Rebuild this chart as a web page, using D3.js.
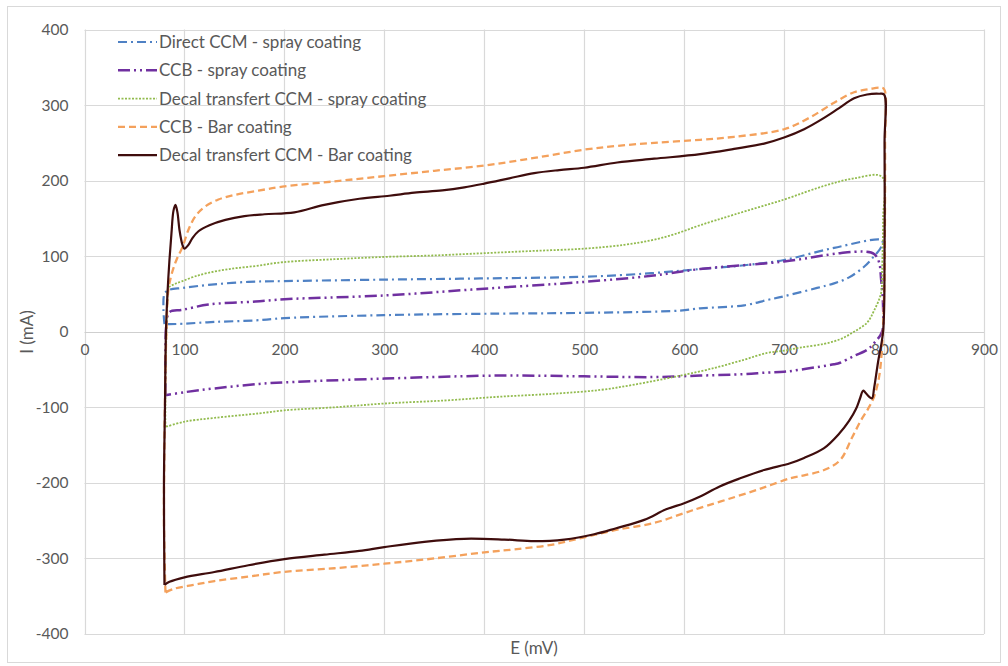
<!DOCTYPE html>
<html>
<head>
<meta charset="utf-8">
<script src="https://cdn.jsdelivr.net/npm/d3@7"></script>
<style>
  html, body { margin: 0; padding: 0; background: #fff; }
  svg { display: block; }
  text { font-family: Lato, "Open Sans", sans-serif; fill: #595959; }
</style>
</head>
<body>
<svg id="chart" width="1008" height="666"></svg>
<script>
// ---- Data ----
const xTicks = [0, 100, 200, 300, 400, 500, 600, 700, 800, 900];
const yTicks = [-400, -300, -200, -100, 0, 100, 200, 300, 400];
const xTitle = "E (mV)";
const yTitle = "I (mA)";

const seriesNames = [
  "Direct CCM - spray coating",
  "CCB - spray coating",
  "Decal transfert CCM - spray coating",
  "CCB - Bar coating",
  "Decal transfert CCM - Bar coating"
];

// [E (mV), I (mA)] closed CV loops
const directSpray = [
  [80,10],[79,30],[80,50],[84,55],[98,58],[124,62],[164,66],[200,67],[300,69],[400,70.6],
  [500,72.8],[567,77.5],[616,83],[660,88],[700,95],[750,111],[798,121],
  [797,112],[790,100],[780,86],[765,72],[750,64],[733,58],[700,47],[683,42],[660,35],
  [616,31],[596,28],[500,25],[415,24],[300,22],[200,18],[171,15],[130,13],[98,10.6],[85,10],[80,10]
];
const ccbSpray = [
  [81,-84],[81,-30],[82,10],[85,26],[98,29],[124,36],[171,40],[200,43],[300,48],[400,57],
  [500,66],[567,74],[616,83],[700,93],[756,104],[780,106],[790,103],
  [795,92],[797,70],[799,34],[798,0],[790,-15],[783,-24],[770,-32],[756,-41],[750,-43],
  [722,-49],[700,-53],[683,-54],[660,-56],[616,-58],[569,-60],[500,-59],[415,-58],[300,-62],
  [200,-67],[175,-69],[130,-75],[100,-80],[81,-84]
];
const decalSpray = [
  [81,-126],[81,-60],[82,0],[83,40],[84,58],[90,63],[98,67],[110,73],[124,78],[145,83],[171,87],
  [198,92],[250,96],[300,99],[350,101],[400,104],[450,107],[500,110],[540,115],[567,121],[590,129],
  [616,141],[650,155],[700,175],[740,193],[770,203],[798,205],
  [799,150],[798,80],[797,51],[790,28],[783,12],[770,0],[756,-10],[740,-16],[716,-21],[700,-25],
  [683,-28],[660,-37],[630,-48],[600,-57],[589,-60],[550,-70],[516,-77],[470,-82],[415,-86],
  [360,-91],[300,-95],[250,-100],[200,-104],[175,-108],[130,-114],[100,-119],[81,-126]
];
const ccbBar = [
  [81,-345],[79.5,-250],[80,-150],[81,-50],[82,0],[84,56],[88,80],[92,95],[98,112],[104,135],
  [111,153],[120,165],[134,175],[150,181],[171,186],[198,192],[250,199],[300,206],[350,213],
  [400,220],[450,230],[500,241],[533,246],[570,250],[616,254],[650,258],[700,268],[725,283],
  [750,303],[770,317],[785,321],[796,323],[800,321],
  [801,250],[800,50],[798,-20],[795,-60],[790,-86],[784,-102],[777,-117],[768,-140],[756,-170],
  [740,-183],[720,-190],[706,-194],[680,-206],[650,-219],[616,-233],[600,-240],[570,-253],
  [533,-262],[500,-272],[467,-282],[430,-288],[400,-292],[350,-300],[300,-307],[250,-313],
  [198,-318],[164,-324],[130,-330],[109,-335],[90,-340],[81,-345]
];
const decalBar = [
  [80,-335],[79.5,-200],[80.5,-100],[81.5,0],[83,50],[85,95],[87,130],[89,160],[91,168],[93,158],
  [95,135],[98,115],[100,110],[104,115],[108,124],[114,133],[125,141],[141,148],[160,153],[180,155.5],
  [210,158],[240,168],[275,176],[305,180],[330,184],[358,187],[380,191],[400,196],
  [425,203],[450,210],[475,214],[500,217],[533,224],[570,229],[616,235],[650,242],[680,249],
  [700,257],[720,268],[740,283],[755,296],[770,309],[783,314],[795,315],[800,314],
  [800.5,250],[800.5,100],[799,0],[794,-40],[790,-75],[788,-88],[785,-86],[781,-80],[779,-78],[776,-88],
  [772,-102],[765,-118],[755,-135],[740,-154],[720,-167],[706,-174],[680,-183],[656,-194],
  [635,-205],[616,-218],[600,-227],[582,-235],[560,-249],[532,-260],[510,-268],[480,-275],
  [450,-277],[420,-275],[380,-274],[340,-278],[300,-285],
  [275,-290],[240,-295],[200,-301],[164,-309],[130,-318],[100,-325],[85,-331],[80,-335]
];

const seriesData = [directSpray, ccbSpray, decalSpray, ccbBar, decalBar];
const seriesColors = ["#4F81C4", "#7030A0", "#92BB4E", "#F4A15C", "#3F0D0D"];
const seriesDash = ["9,4,2,4", "12,4,2,4,2,4", "2,1.5", "7,4", null];
const seriesWidth = [2.2, 2.5, 1.8, 2.3, 2.2];

// ---- Chart ----
const svg = d3.select("#chart");

const x = d3.scaleLinear().domain([0, 900]).range([84.5, 984]);
const y = d3.scaleLinear().domain([-400, 400]).range([634, 29.5]);

// outer border
svg.append("rect").attr("x", 7.5).attr("y", 6.5).attr("width", 993).attr("height", 656)
  .attr("fill", "#fff").attr("stroke", "#D9D9D9").attr("stroke-width", 1);

// gridlines
const grid = svg.append("g");
grid.selectAll(".vg").data(xTicks).enter().append("line")
  .attr("x1", d => Math.round(x(d)) + 0.5).attr("x2", d => Math.round(x(d)) + 0.5)
  .attr("y1", y(400)).attr("y2", y(-400))
  .attr("stroke", "#D9D9D9").attr("stroke-width", 1.2);
grid.selectAll(".hg").data(yTicks).enter().append("line")
  .attr("y1", d => Math.round(y(d)) + 0.5).attr("y2", d => Math.round(y(d)) + 0.5)
  .attr("x1", x(0)).attr("x2", x(900))
  .attr("stroke", d => d === 0 ? "#CFCFCF" : "#D9D9D9").attr("stroke-width", 1.2);

// axes tick labels via d3 axes
const fmt = d => String(d);
const xAxis = d3.axisBottom(x).tickValues(xTicks).tickFormat(fmt).tickSize(0).tickPadding(12);
const gx = svg.append("g").attr("transform", `translate(0,${y(0)})`).call(xAxis);
gx.select(".domain").remove();
gx.selectAll("text").style("font-size", "15.5px").style("fill", "#595959")
  .style("font-family", "Lato, 'Open Sans', sans-serif");

const yAxis = d3.axisLeft(y).tickValues(yTicks).tickFormat(fmt).tickSize(0).tickPadding(16);
const gy = svg.append("g").attr("transform", `translate(${x(0)},0)`).call(yAxis);
gy.select(".domain").remove();
gy.selectAll("text").style("font-size", "15.5px").style("fill", "#595959")
  .style("font-family", "Lato, 'Open Sans', sans-serif");

// axis titles
svg.append("text").attr("x", 534).attr("y", 654).attr("text-anchor", "middle")
  .style("font-size", "17px").text(xTitle);
svg.append("text").attr("transform", "translate(33,332) rotate(-90)").attr("text-anchor", "middle")
  .style("font-size", "17px").text(yTitle);

// series
const line = d3.line().x(d => x(d[0])).y(d => y(d[1])).curve(d3.curveCatmullRom.alpha(0.5));
const plot = svg.append("g");
seriesData.forEach((data, i) => {
  plot.append("path").datum(data).attr("d", line)
    .attr("fill", "none").attr("stroke", seriesColors[i])
    .attr("stroke-width", seriesWidth[i])
    .attr("stroke-dasharray", seriesDash[i])
    .attr("stroke-linejoin", "round");
});

// legend
const legend = svg.append("g");
seriesNames.forEach((name, i) => {
  const cy = 42 + i * 28.3;
  legend.append("line").attr("x1", 118).attr("x2", 157).attr("y1", cy).attr("y2", cy)
    .attr("stroke", seriesColors[i]).attr("stroke-width", seriesWidth[i])
    .attr("stroke-dasharray", seriesDash[i]);
  legend.append("text").attr("x", 159).attr("y", cy + 6)
    .style("font-size", "17px").text(name);
});
</script>
</body>
</html>
